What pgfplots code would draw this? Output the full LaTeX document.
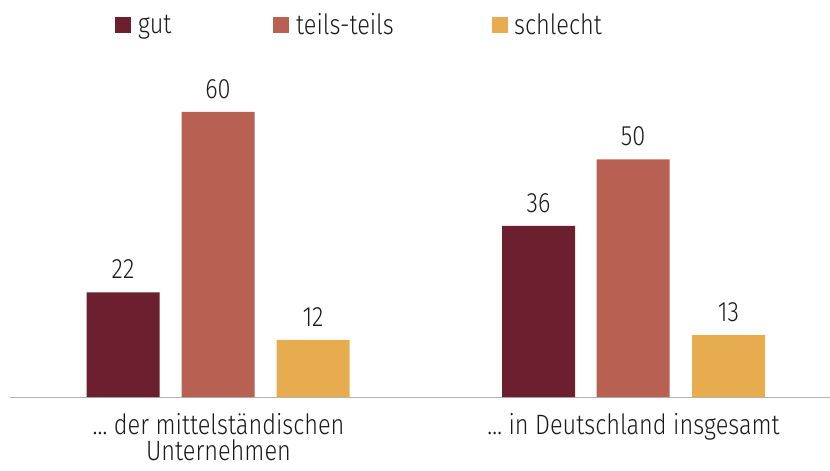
\documentclass[border=0pt]{standalone}
\usepackage{pgfplots}
\pgfplotsset{compat=1.18}
\usepackage{fontspec}
\setmainfont{Fira Sans}[UprightFont=* Light, FakeStretch=0.84]
\definecolor{cgut}{HTML}{6B1F2F}
\definecolor{cteils}{HTML}{B86052}
\definecolor{cschl}{HTML}{E8AC50}
\definecolor{ctext}{HTML}{1A1A1A}
\begin{document}
\begin{tikzpicture}
\useasboundingbox (0,0) rectangle (830bp,471bp);
\begin{axis}[
  at={(10bp,74bp)}, anchor=south west,
  scale only axis, width=820bp, height=337bp,
  xmin=0, xmax=820, ymin=0, ymax=70.947,
  axis y line=none,
  axis x line*=bottom,
  x axis line style={draw=gray!60, line width=1pt, -},
  xtick={208.5,623.5},
  xticklabels={{… der mittelständischen\\[-2bp]Unternehmen},{… in Deutschland insgesamt}},
  xticklabel style={align=center, font=\fontsize{28bp}{28bp}\selectfont, text=ctext, yshift=-13bp, text depth=0pt},
  major tick length=0pt,
  ybar, bar width=73, bar shift=0pt,
  nodes near coords,
  /pgf/number format/assume math mode=true,
  every node near coord/.append style={font=\fontsize{28bp}{30bp}\selectfont, text=ctext, yshift=10bp},
  legend columns=3,
  legend style={at={(0.128,1.104)}, anchor=west, draw=none, fill=none, inner sep=0pt,
    nodes={inner sep=0pt},
    font=\fontsize{28bp}{30bp}\selectfont, text=ctext},
  legend image code/.code={\fill[#1] (0bp,-8bp) rectangle (16bp,8bp);},
  clip=false,
]
\addplot[fill=cgut, draw=none] coordinates {(113,22) (528.5,36)};
\addplot[fill=cteils, draw=none] coordinates {(208,60) (623,50)};
\addplot[fill=cschl, draw=none] coordinates {(303,12) (718.5,13)};
\legend{\makebox[142bp][l]{\hspace{7bp}gut}, \makebox[203bp][l]{\hspace{7bp}teils-teils}, \makebox[120bp][l]{\hspace{6bp}schlecht}}
\end{axis}
\end{tikzpicture}
\end{document}
